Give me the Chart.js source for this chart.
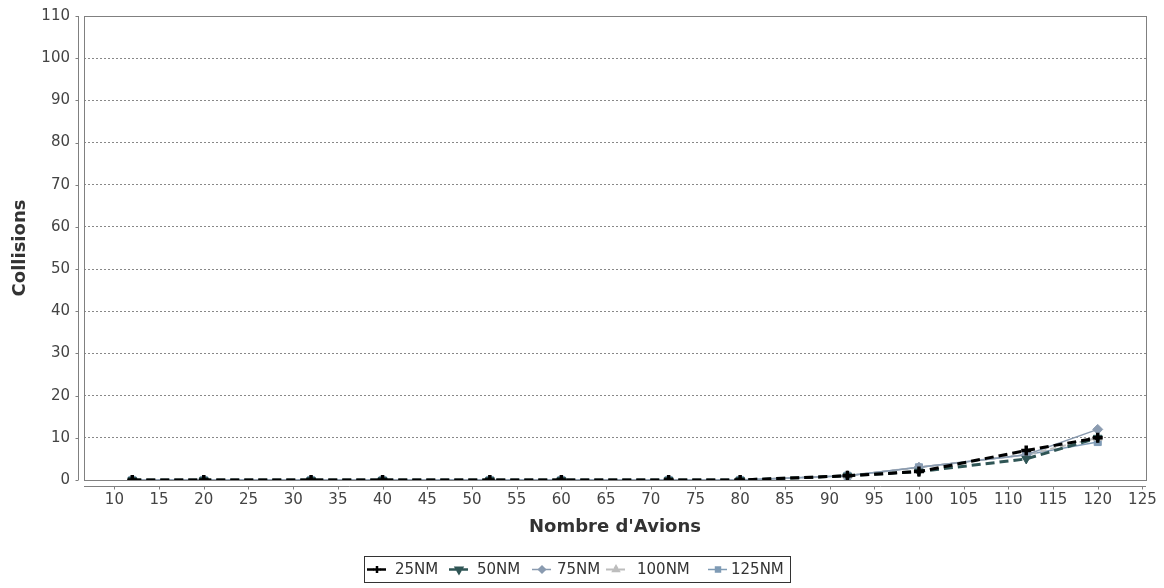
<!DOCTYPE html>
<html>
<head>
<meta charset="utf-8">
<script src="https://cdn.jsdelivr.net/npm/chart.js@4.4.1/dist/chart.umd.min.js"></script>
<style>
html,body{margin:0;padding:0;background:#fff;}
#wrap{width:1164px;height:588px;position:relative;}
</style>
</head>
<body>
<div id="wrap"><canvas id="c" width="1164" height="588"></canvas></div>
<script>
const xValues = [12, 20, 32, 40, 52, 60, 72, 80, 92, 100, 112, 120];
const s25 = [0, 0, 0, 0, 0, 0, 0, 0, 1, 2, 7, 10];
const s50 = [0, 0, 0, 0, 0, 0, 0, 0, 1, 2, 5, 10];
const s75 = [0, 0, 0, 0, 0, 0, 0, 0, 1, 3, 6, 12];
const s100 = [0, 0, 0, 0, 0, 0, 0, 0, 1, 3, 6, 10];
const s125 = [0, 0, 0, 0, 0, 0, 0, 0, 1, 3, 6, 9];
const seriesNames = ['25NM', '50NM', '75NM', '100NM', '125NM'];
const xTicks = [10,15,20,25,30,35,40,45,50,55,60,65,70,75,80,85,90,95,100,105,110,115,120,125];
const yTicks = [0,10,20,30,40,50,60,70,80,90,100,110];

const FONT = '"DejaVu Sans", Verdana, sans-serif';
const styles = [
  {color:'#000000', width:3, dash:[9,5], point:'cross', rot:0, r:5, pbw:3.5},
  {color:'#2f5555', width:3, dash:[9,5], point:'triangle', rot:180, r:5, pbw:1},
  {color:'#8a9bb0', width:1.5, dash:[], point:'rectRot', rot:0, r:5, pbw:1},
  {color:'#bdbdbd', width:2, dash:[6,4], point:'triangle', rot:0, r:5, pbw:1},
  {color:'#7f9bb5', width:1.5, dash:[], point:'rect', rot:0, r:5, pbw:1}
];
const allSeries = [s25, s50, s75, s100, s125];

const datasets = allSeries.map((s, i) => ({
  label: seriesNames[i],
  data: s.map((v, j) => ({x: xValues[j], y: v})),
  borderColor: styles[i].color,
  backgroundColor: styles[i].color,
  borderWidth: styles[i].width,
  borderDash: styles[i].dash,
  pointStyle: styles[i].point,
  pointRotation: styles[i].rot,
  pointRadius: styles[i].r,
  pointBorderWidth: styles[i].pbw,
  pointBorderColor: styles[i].color,
  pointBackgroundColor: styles[i].color,
  tension: 0,
  fill: false
}));

const framePlugin = {
  id: 'frame',
  afterDraw(chart) {
    const {ctx, chartArea: a} = chart;
    const xs = chart.scales.x, ys = chart.scales.y;
    ctx.save();
    ctx.strokeStyle = '#808080';
    ctx.lineWidth = 1;
    ctx.setLineDash([]);
    ctx.strokeRect(Math.round(a.left) + 0.5, Math.round(a.top) + 0.5, Math.round(a.right - a.left), Math.round(a.bottom - a.top));
    const axX = Math.round(a.left) - 6 + 0.5;
    ctx.beginPath();
    ctx.moveTo(axX, a.top);
    ctx.lineTo(axX, a.bottom);
    yTicks.forEach(v => {
      const y = Math.round(ys.getPixelForValue(v)) + 0.5;
      ctx.moveTo(axX - 3, y);
      ctx.lineTo(axX, y);
    });
    const axY = Math.round(a.bottom) + 6 + 0.5;
    ctx.moveTo(a.left, axY);
    ctx.lineTo(a.right, axY);
    xTicks.forEach(v => {
      const x = Math.round(xs.getPixelForValue(v)) + 0.5;
      ctx.moveTo(x, axY);
      ctx.lineTo(x, axY + 3);
    });
    ctx.stroke();

    const bx = 364.5, by = 556.5, bw = 426, bh = 26;
    ctx.strokeStyle = '#333';
    ctx.strokeRect(bx, by, bw, bh);
    const items = [
      {mx: 377, tx: 395},
      {mx: 459, tx: 477},
      {mx: 542, tx: 557},
      {mx: 616, tx: 637},
      {mx: 718, tx: 731}
    ];
    ctx.font = '15px ' + FONT;
    ctx.textBaseline = 'middle';
    ctx.fillStyle = '#333';
    const cy = by + bh / 2;
    items.forEach((it, i) => {
      const st = styles[i];
      ctx.save();
      ctx.strokeStyle = st.color;
      ctx.lineWidth = Math.min(st.width, 2.5);
      ctx.setLineDash([]);
      ctx.beginPath();
      ctx.moveTo(it.mx - 10, cy);
      ctx.lineTo(it.mx - 3, cy);
      ctx.moveTo(it.mx + 3, cy);
      ctx.lineTo(it.mx + 9, cy);
      ctx.stroke();
      ctx.fillStyle = st.color;
      Chart.helpers.drawPoint(ctx, {
        pointStyle: st.point, rotation: st.rot, radius: st.r - 1.5,
        borderWidth: Math.min(st.pbw, 2.5)
      }, it.mx, cy);
      ctx.restore();
      ctx.fillStyle = '#333';
      ctx.fillText(seriesNames[i], it.tx, cy + 1);
    });
    ctx.restore();
  }
};

new Chart(document.getElementById('c'), {
  type: 'line',
  data: {datasets},
  options: {
    responsive: false,
    animation: false,
    devicePixelRatio: 1,
    layout: {padding: {left: 0, right: 18, top: 16, bottom: 48}},
    plugins: {legend: {display: false}, tooltip: {enabled: false}},
    scales: {
      x: {
        type: 'linear',
        min: 6.6,
        max: 125.4,
        afterBuildTicks(scale) { scale.ticks = xTicks.map(v => ({value: v})); },
        afterFit(scale) { scale.height = 60; scale.paddingLeft = 0; scale.paddingRight = 0; },
        grid: {display: false, drawTicks: false},
        border: {display: false},
        ticks: {
          color: '#444',
          font: {family: FONT, size: 15},
          padding: 11,
          maxRotation: 0,
          autoSkip: false,
          callback: v => String(v)
        },
        title: {
          display: true,
          text: "Nombre d'Avions",
          color: '#333',
          font: {family: FONT, size: 18, weight: 'bold'},
          padding: {top: 0, bottom: 2}
        }
      },
      y: {
        min: 0,
        max: 110,
        afterBuildTicks(scale) { scale.ticks = yTicks.map(v => ({value: v})); },
        afterFit(scale) { scale.width = 84; scale.paddingTop = 0; scale.paddingBottom = 0; },
        grid: {
          drawTicks: false,
          color: '#888',
          lineWidth: 1
        },
        border: {display: false, dash: [2, 2]},
        ticks: {
          color: '#444',
          font: {family: FONT, size: 15},
          padding: 14,
          callback: v => String(v)
        },
        title: {
          display: true,
          text: 'Collisions',
          color: '#333',
          font: {family: FONT, size: 18, weight: 'bold'},
          padding: {top: 10, bottom: 0}
        }
      }
    }
  },
  plugins: [framePlugin]
});
</script>
</body>
</html>
